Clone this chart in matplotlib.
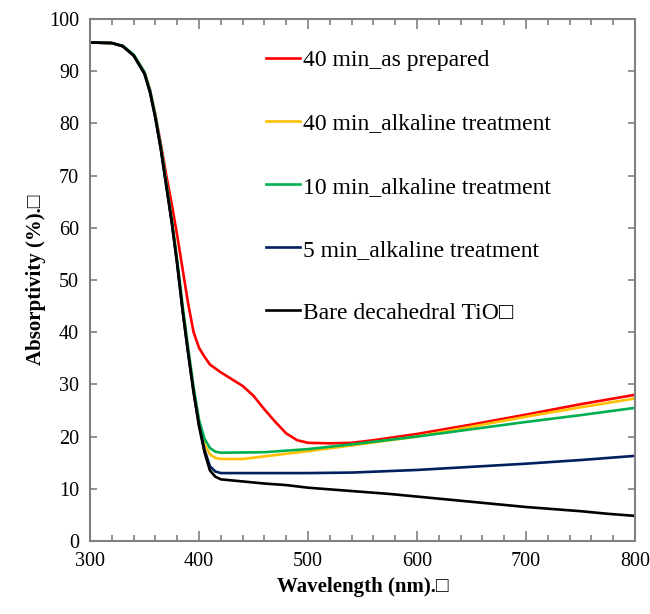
import matplotlib
matplotlib.use("Agg")
import matplotlib.pyplot as plt
import numpy as np

plt.rcParams['font.family'] = ['Liberation Serif', 'DejaVu Serif']

# Common descent (bare TiO2)
wl_black = [300, 320, 330, 340, 350, 355, 360, 365, 370, 375, 380, 385, 390, 395, 400, 405, 410, 415, 420, 440, 460, 480, 500, 525, 550, 575, 600, 625, 650, 675, 700, 725, 750, 775, 800]
ab_black = [95.5, 95.4, 94.8, 93.0, 89.5, 86.0, 81.0, 75.0, 68.0, 61.0, 53.0, 44.0, 36.0, 28.5, 22.0, 17.0, 13.5, 12.3, 11.8, 11.4, 11.0, 10.7, 10.2, 9.8, 9.4, 9.0, 8.5, 8.0, 7.5, 7.0, 6.5, 6.1, 5.7, 5.2, 4.8]

wl_blue = [300, 320, 330, 340, 350, 355, 360, 365, 370, 375, 380, 385, 390, 395, 400, 405, 410, 415, 420, 460, 500, 540, 600, 650, 700, 750, 800]
ab_blue = [95.5, 95.4, 94.8, 93.0, 89.5, 86.0, 81.0, 75.0, 68.0, 61.0, 53.0, 44.0, 36.0, 28.5, 22.2, 17.5, 14.3, 13.3, 13.0, 13.0, 13.0, 13.1, 13.6, 14.2, 14.8, 15.5, 16.3]

wl_green = [300, 320, 330, 340, 350, 355, 360, 365, 370, 375, 380, 385, 390, 395, 400, 405, 410, 415, 420, 460, 500, 540, 600, 650, 700, 750, 800]
ab_green = [95.5, 95.4, 94.9, 93.2, 89.8, 86.4, 81.5, 75.5, 68.6, 61.6, 53.8, 45.0, 37.0, 29.5, 23.2, 19.6, 17.8, 17.1, 16.9, 17.0, 17.6, 18.5, 20.0, 21.4, 22.8, 24.1, 25.5]

wl_yellow = [300, 320, 330, 340, 350, 355, 360, 365, 370, 375, 380, 385, 390, 395, 400, 405, 410, 415, 420, 440, 460, 500, 540, 600, 650, 700, 750, 800]
ab_yellow = [95.5, 95.4, 94.8, 93.1, 89.7, 86.2, 81.3, 75.3, 68.4, 61.4, 53.5, 44.6, 36.6, 29.0, 22.6, 18.5, 16.6, 15.9, 15.7, 15.7, 16.2, 17.2, 18.3, 20.0, 21.9, 23.8, 25.6, 27.3]

wl_red = [300, 320, 330, 340, 350, 355, 360, 365, 370, 375, 380, 385, 390, 395, 400, 405, 410, 420, 430, 440, 450, 460, 470, 480, 490, 500, 520, 540, 560, 600, 650, 700, 750, 800]
ab_red = [95.5, 95.4, 94.8, 93.1, 89.8, 86.4, 81.6, 76.0, 70.0, 64.5, 58.5, 52.0, 45.5, 40.0, 37.0, 35.3, 33.8, 32.3, 31.0, 29.7, 27.8, 25.2, 22.8, 20.6, 19.3, 18.8, 18.7, 18.8, 19.3, 20.5, 22.3, 24.2, 26.2, 28.0]

labels = ["40 min_as prepared", "40 min_alkaline treatment", "10 min_alkaline treatment",
          "5 min_alkaline treatment", "Bare decahedral TiO\u25a1"]
colors = ["#FF0000", "#FFC000", "#00B050", "#002060", "#000000"]

fig = plt.figure(figsize=(6.5, 6.14), dpi=100)
ax = fig.add_axes([0.1385, 0.119, 0.8385, 0.850])

series = [(wl_red, ab_red), (wl_yellow, ab_yellow), (wl_green, ab_green), (wl_blue, ab_blue), (wl_black, ab_black)]
for (x, y), c, l in zip(series, colors, labels):
    ax.plot(x, y, color=c, lw=1.9, label=l)

ax.set_xlim(300, 800)
ax.set_ylim(0, 100)
ax.set_xticks(np.arange(300, 801, 100))
ax.set_xticks(np.arange(300, 801, 20), minor=True)
ax.set_yticks(np.arange(0, 101, 10))
ax.tick_params(axis='both', which='major', direction='in', labelsize=14.5, color='#808080', width=1.2)
ax.tick_params(axis='x', which='major', length=7, top=True, pad=8)
ax.tick_params(axis='x', which='minor', direction='in', length=4, top=True, color='#808080', width=1.2)
ax.tick_params(axis='y', which='major', length=5, right=True, pad=8)
for s in ax.spines.values():
    s.set_color('#808080')
    s.set_linewidth(1.5)

ax.set_xlabel("Wavelength (nm).\u25a1", fontsize=15, fontweight='bold', labelpad=4)
ax.set_ylabel("Absorptivity (%).\u25a1", fontsize=15, fontweight='bold', labelpad=2)

leg = ax.legend(loc='upper left', bbox_to_anchor=(0.305, 0.959), frameon=False, fontsize=17,
                handlelength=1.45, handletextpad=0.12, labelspacing=1.76, borderaxespad=0)

fig.savefig("out.png", dpi=100)
